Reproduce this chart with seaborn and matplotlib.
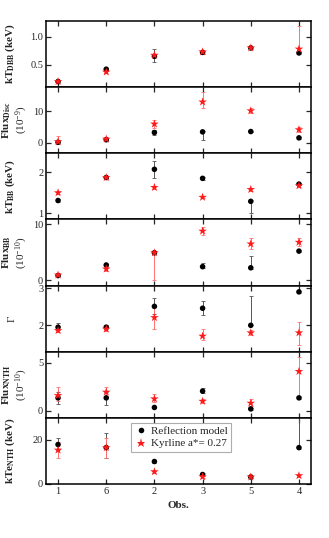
import numpy as np
import pandas as pd
import matplotlib
matplotlib.use("Agg")
import matplotlib.pyplot as plt
import seaborn as sns

sns.set_theme(style="white")
plt.rcParams['font.family'] = ['Liberation Serif', 'DejaVu Serif']
plt.rcParams['mathtext.fontset'] = 'custom'
plt.rcParams['mathtext.rm'] = 'Liberation Serif'
plt.rcParams['mathtext.bf'] = 'Liberation Serif:bold'
plt.rcParams['mathtext.it'] = 'Liberation Serif:italic'

obs_labels = ['1', '6', '2', '3', '5', '4']
models = ['Reflection model', 'Kyrline a*= 0.27']

# panel 1: kT_DBB
kTdbb_ref = [0.20, 0.42, 0.65, 0.72, 0.80, 0.71]
kTdbb_ref_lo = [0.02, 0.02, 0.11, 0.02, 0.02, 0.02]
kTdbb_ref_hi = [0.02, 0.02, 0.13, 0.02, 0.02, 0.02]
kTdbb_kyr = [0.20, 0.37, 0.67, 0.73, 0.80, 0.78]
kTdbb_kyr_lo = [0.02, 0.02, 0.03, 0.02, 0.02, 0.06]
kTdbb_kyr_hi = [0.02, 0.02, 0.03, 0.02, 0.02, 0.41]

# panel 2: Flux Disc
fdisc_ref = [0.2, 1.0, 3.3, 3.5, 3.6, 1.6]
fdisc_ref_lo = [0.3, 0.3, 0.8, 2.6, 0.3, 0.3]
fdisc_ref_hi = [0.3, 0.3, 0.8, 0.3, 0.3, 0.3]
fdisc_kyr = [0.4, 1.2, 6.0, 13.0, 10.2, 4.2]
fdisc_kyr_lo = [0.9, 0.6, 1.3, 2.0, 0.8, 0.7]
fdisc_kyr_hi = [1.8, 0.8, 1.3, 3.2, 0.8, 0.9]

# panel 3: kT_BB
kTbb_ref = [1.31, 1.87, 2.07, 1.85, 1.29, 1.71]
kTbb_ref_lo = [0.03, 0.03, 0.22, 0.03, 0.29, 0.03]
kTbb_ref_hi = [0.03, 0.03, 0.20, 0.03, 0.03, 0.03]
kTbb_kyr = [1.50, 1.87, 1.63, 1.39, 1.58, 1.67]
kTbb_kyr_lo = [0.03, 0.03, 0.03, 0.03, 0.03, 0.03]
kTbb_kyr_hi = [0.03, 0.03, 0.03, 0.03, 0.03, 0.03]

# panel 4: Flux BB
fbb_ref = [0.8, 2.7, 4.9, 2.4, 2.2, 5.2]
fbb_ref_lo = [0.1, 0.2, 0.2, 0.2, 0.2, 0.2]
fbb_ref_hi = [0.1, 0.2, 0.2, 0.7, 2.1, 0.2]
fbb_kyr = [0.9, 2.0, 4.9, 8.8, 6.5, 6.8]
fbb_kyr_lo = [0.3, 0.3, 4.9, 0.7, 1.0, 0.7]
fbb_kyr_hi = [0.3, 0.3, 0.3, 0.8, 1.1, 0.8]

# panel 5: Gamma
gam_ref = [1.95, 1.95, 2.51, 2.46, 2.00, 2.90]
gam_ref_lo = [0.08, 0.05, 0.20, 0.18, 0.00, 0.02]
gam_ref_hi = [0.12, 0.05, 0.22, 0.20, 0.78, 0.02]
gam_kyr = [1.86, 1.90, 2.21, 1.71, 1.80, 1.80]
gam_kyr_lo = [0.05, 0.05, 0.30, 0.10, 0.07, 0.32]
gam_kyr_hi = [0.05, 0.05, 0.30, 0.19, 0.07, 0.30]

# panel 6: Flux NTH
fnth_ref = [1.35, 1.35, 0.35, 2.05, 0.20, 1.35]
fnth_ref_lo = [0.65, 0.70, 0.10, 0.20, 0.10, 0.10]
fnth_ref_hi = [0.60, 0.60, 0.10, 0.30, 0.10, 0.10]
fnth_kyr = [1.6, 1.95, 1.25, 1.0, 0.8, 4.1]
fnth_kyr_lo = [0.6, 0.5, 0.35, 0.2, 0.3, 2.6]
fnth_kyr_hi = [0.9, 0.55, 0.5, 0.25, 0.4, 1.5]

# panel 7: kTe_NTH
kte_ref = [17.9, 16.5, 10.2, 4.3, 3.2, 16.5]
kte_ref_lo = [2.5, 4.5, 0.5, 0.5, 0.5, 0.5]
kte_ref_hi = [3.0, 6.5, 0.5, 0.5, 0.5, 14.0]
kte_kyr = [15.4, 16.5, 5.6, 3.3, 3.2, 3.8]
kte_kyr_lo = [3.4, 4.5, 0.5, 0.5, 0.5, 0.5]
kte_kyr_hi = [3.6, 4.5, 0.5, 0.5, 0.5, 0.5]

ylabels = [r"$\mathbf{kT_{DBB}\ (keV)}$",
           r"$\mathbf{Flux_{Disc}}$" + "\n" + r"(10$^{-9}$)",
           r"$\mathbf{kT_{BB}\ (keV)}$",
           r"$\mathbf{Flux_{BB}}$" + "\n" + r"(10$^{-10}$)",
           "Γ",
           r"$\mathbf{Flux_{NTH}}$" + "\n" + r"(10$^{-10}$)",
           r"$\mathbf{kTe_{NTH}\ (keV)}$"]

panels = [
    (kTdbb_ref, kTdbb_ref_lo, kTdbb_ref_hi, kTdbb_kyr, kTdbb_kyr_lo, kTdbb_kyr_hi),
    (fdisc_ref, fdisc_ref_lo, fdisc_ref_hi, fdisc_kyr, fdisc_kyr_lo, fdisc_kyr_hi),
    (kTbb_ref, kTbb_ref_lo, kTbb_ref_hi, kTbb_kyr, kTbb_kyr_lo, kTbb_kyr_hi),
    (fbb_ref, fbb_ref_lo, fbb_ref_hi, fbb_kyr, fbb_kyr_lo, fbb_kyr_hi),
    (gam_ref, gam_ref_lo, gam_ref_hi, gam_kyr, gam_kyr_lo, gam_kyr_hi),
    (fnth_ref, fnth_ref_lo, fnth_ref_hi, fnth_kyr, fnth_kyr_lo, fnth_kyr_hi),
    (kte_ref, kte_ref_lo, kte_ref_hi, kte_kyr, kte_kyr_lo, kte_kyr_hi),
]
ylims = [(0.10, 1.28), (-3.3, 17.7), (0.85, 2.46), (-1.0, 10.9),
         (1.29, 3.07), (-0.73, 6.15), (0, 30)]
yticks = [[0.5, 1.0], [0, 10], [1, 2], [0, 10], [2, 3], [0, 5], [0, 20]]
yticklabels = [['0.5', '1.0'], ['0', '10'], ['1', '2'], ['0', '10'],
               ['2', '3'], ['0', '5'], ['0', '20']]
label_x = [-0.11, -0.06, -0.11, -0.06, -0.11, -0.06, -0.11]

fig, axes = plt.subplots(7, 1, figsize=(3.29, 5.38), dpi=100, sharex=True)
fig.subplots_adjust(left=46/329, right=311/329, top=1-21/538, bottom=1-484/538, hspace=0)

pos = np.arange(len(obs_labels))
for i, ax in enumerate(axes):
    ref, rlo, rhi, kyr, klo, khi = panels[i]
    df = pd.DataFrame({
        'x': np.concatenate([pos, pos]),
        'y': list(ref) + list(kyr),
        'model': [models[0]] * len(pos) + [models[1]] * len(pos),
    })
    ax.errorbar(pos, ref, yerr=[rlo, rhi], fmt='none', ecolor='#555555',
                elinewidth=0.7, capsize=1.5, capthick=0.6, zorder=1)
    ax.errorbar(pos, kyr, yerr=[klo, khi], fmt='none', ecolor='#ff7070',
                elinewidth=0.7, capsize=1.5, capthick=0.6, zorder=1)
    sns.scatterplot(data=df, x='x', y='y', hue='model', style='model', size='model',
                    hue_order=models, style_order=models, size_order=models,
                    palette={models[0]: 'black', models[1]: '#ff1a1a'},
                    markers={models[0]: 'o', models[1]: '*'},
                    sizes={models[0]: 16, models[1]: 42},
                    edgecolor='none', linewidth=0,
                    legend=(i == 6), ax=ax, zorder=3)
    ax.set_ylim(*ylims[i])
    ax.set_xlim(-0.25, 5.25)
    ax.set_yticks(yticks[i])
    ax.set_yticklabels(yticklabels[i])
    ax.set_ylabel(ylabels[i], fontsize=8, linespacing=1.1)
    ax.yaxis.set_label_coords(label_x[i], 0.5)
    ax.set_xlabel('')
    ax.tick_params(direction='in', length=3.5, width=0.9, top=True, right=True,
                   bottom=True, left=True, labelsize=7.5, pad=2)
    for sp in ax.spines.values():
        sp.set_linewidth(1.1)
        sp.set_color('black')

axes[-1].set_xticks(pos)
axes[-1].set_xticklabels(obs_labels)
axes[-1].set_xlabel('Obs.', fontsize=8, fontweight='bold', labelpad=4)

leg = axes[-1].legend(loc='upper center', bbox_to_anchor=(0.51, 1.01), fontsize=8,
                      frameon=True, fancybox=False, edgecolor='#999999',
                      handletextpad=0.3, borderpad=0.3, labelspacing=0.25,
                      handlelength=1.2)
leg.get_frame().set_linewidth(0.8)

fig.savefig('out.png', dpi=100)
